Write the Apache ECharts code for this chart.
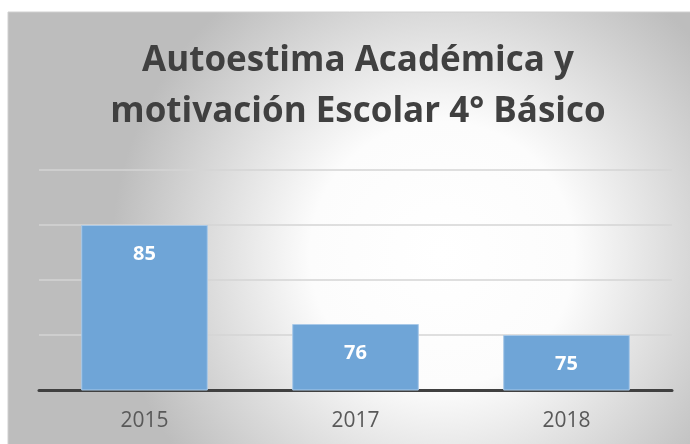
<!DOCTYPE html>
<html>
<head>
<meta charset="utf-8">
<script src="https://cdn.jsdelivr.net/npm/echarts@6/dist/echarts.min.js"></script>
<style>
  html, body { margin: 0; padding: 0; background: #fff; }
  #main { width: 690px; height: 444px; }
</style>
</head>
<body>
<div id="main"></div>
<script>
// datos
const years = ['2015', '2017', '2018'];
const scores = [85, 76, 75];

const chart = echarts.init(document.getElementById('main'));

const option = {
  animation: false,
  graphic: [{
    type: 'rect',
    z: -10,
    shape: { x: 8, y: 12, width: 700, height: 440 },
    style: {
      fill: new echarts.graphic.RadialGradient(0.62, 0.55, 0.75, [
        { offset: 0, color: '#ffffff' },
        { offset: 0.4, color: '#fcfcfc' },
        { offset: 1, color: '#bdbdbd' }
      ]),
      stroke: '#d0d0d0',
      lineWidth: 1
    }
  }],
  title: {
    text: 'Autoestima Académica y\nmotivación Escolar 4° Básico',
    left: 353,
    top: 31,
    textAlign: 'center',
    textStyle: {
      fontFamily: 'Open Sans',
      fontWeight: 'bold',
      fontSize: 35,
      lineHeight: 51,
      color: '#404040'
    }
  },
  grid: { left: 39, right: 18, top: 170, bottom: 54 },
  xAxis: {
    type: 'category',
    data: years,
    axisLine: { lineStyle: { color: '#404040', width: 3 } },
    axisTick: { show: false },
    axisLabel: {
      margin: 21,
      fontFamily: 'Open Sans',
      fontSize: 21,
      color: '#595959'
    }
  },
  yAxis: {
    type: 'value',
    min: 70,
    max: 90,
    interval: 5,
    axisLabel: { show: false },
    axisLine: { show: false },
    axisTick: { show: false },
    splitLine: { lineStyle: { color: '#d4d4d4', width: 1.5 } }
  },
  series: [{
    type: 'bar',
    data: scores,
    barCategoryGap: '40%',
    itemStyle: { color: '#6fa5d7', borderColor: '#a9c9e8', borderWidth: 1 },
    label: {
      show: true,
      position: 'insideTop',
      distance: 19,
      fontFamily: 'Open Sans',
      fontWeight: 'bold',
      fontSize: 20,
      color: '#ffffff'
    }
  }]
};

chart.setOption(option);
</script>
</body>
</html>
